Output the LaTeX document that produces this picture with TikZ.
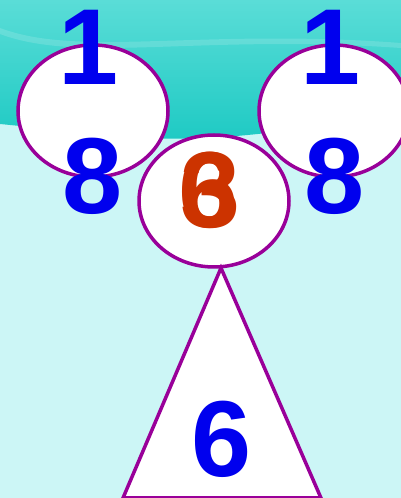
\documentclass[tikz,border=0pt]{standalone}
\usepackage{fontspec}
\setmainfont{Liberation Sans}
\usetikzlibrary{shapes.geometric}
\definecolor{rim}{HTML}{990099}
\definecolor{digit}{HTML}{0000EE}
\definecolor{hot}{HTML}{CC3300}
\definecolor{sea}{HTML}{1CC9C3}
\definecolor{seatop}{HTML}{5ADDD7}
\definecolor{mist}{HTML}{CCF6F6}

\begin{document}
\begin{tikzpicture}[x=1pt,y=1pt,
  bubble/.style={ellipse,draw=rim,fill=white,line width=3.5pt,minimum width=150pt,minimum height=132pt,inner sep=0pt},
  num/.style={font=\fontsize{108}{108}\selectfont\bfseries,text=digit,inner sep=0pt},
  hotnum/.style={num,text=hot}]
\useasboundingbox (0,0) rectangle (401,498);
\clip (0,0) rectangle (401,498);
% background
\fill[mist] (0,0) rectangle (401,498);
\shade[top color=seatop,bottom color=sea] (0,498) -- (401,498) -- (401,380)
  .. controls (300,372) and (220,352) .. (120,362) .. controls (60,368) and (20,372) .. (0,374) -- cycle;
\fill[white,opacity=0.15] (0,470) .. controls (80,440) and (200,470) .. (401,455) -- (401,450)
  .. controls (200,464) and (80,434) .. (0,464) -- cycle;
% bubbles
\node[bubble] (lcirc) at (93,387) {};
\node[bubble] (rcirc) at (334,387) {};
\node[bubble] (mcirc) at (214,297) {};
% triangle
\coordinate (apex) at (221,230);
\coordinate (bl) at (123,0);
\coordinate (br) at (321,0);
\draw[rim,fill=white,line width=3.5pt,line join=miter] (apex) -- (br) -- (bl) -- cycle;
% digits
\node[num] (ltop) at (89,451) {1};
\node[num] (lbot) at (93,322) {8};
\node[num] (rtop) at (331,451) {1};
\node[num] (rbot) at (335,322) {8};
\node[hotnum] (msix) at (209,308) {6};
\node[hotnum] (mthree) at (211,308) {3};
\node[num] (tsix) at (222,59) {6};
\end{tikzpicture}
\end{document}
